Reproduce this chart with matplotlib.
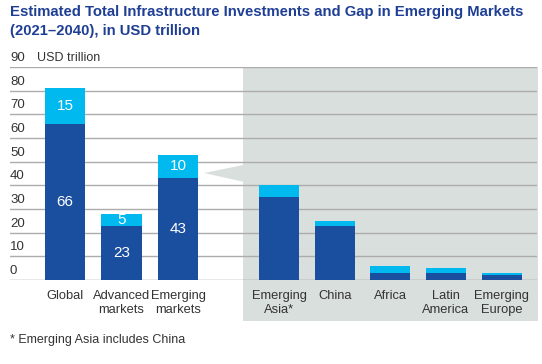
import matplotlib
matplotlib.use("Agg")
import matplotlib.pyplot as plt
from matplotlib.patches import Rectangle, Polygon
import matplotlib.transforms as mtransforms

plt.rcParams['font.family'] = ['Liberation Sans', 'DejaVu Sans']

categories = ["Global", "Advanced\nmarkets", "Emerging\nmarkets",
              "Emerging\nAsia*", "China", "Africa", "Latin\nAmerica", "Emerging\nEurope"]
investment = [66, 23, 43, 35, 23, 3, 3, 2]
gap = [15, 5, 10, 5, 2, 3, 2, 1]
show_labels = [True, True, True, False, False, False, False, False]
yticks = [0, 10, 20, 30, 40, 50, 60, 70, 80, 90]

positions = [0, 1, 2, 3.79, 4.78, 5.76, 6.74, 7.73]

DARK = "#1a4e9f"
LIGHT = "#00b9ef"
GRAY = "#d9dfdc"
TITLE = "#1f3f95"
TXT = "#333333"

W, H = 542, 364
fig = plt.figure(figsize=(W / 100, H / 100), dpi=100)
x0, x1 = 10, 537
yb, yt = 280, 67
ax = fig.add_axes([x0 / W, (H - yb) / H, (x1 - x0) / W, (yb - yt) / H])
xmin = (x0 - 65) / 56.5
xmax = (x1 - 65) / 56.5
ax.set_xlim(xmin, xmax)
ax.set_ylim(0, 90)
ax.axis("off")

trans = mtransforms.blended_transform_factory(ax.transData, ax.transAxes)
gx = (243 - 65) / 56.5
ax.add_patch(Rectangle((gx, -0.192), xmax - gx + 0.02, 1.192, transform=trans,
                       facecolor=GRAY, edgecolor="none", clip_on=False, zorder=0))

for t in yticks:
    ax.axhline(t, color="#acacac" if t > 0 else "#8c8c8c", lw=1.0, zorder=1)
    ax.text(xmin, t + 1.2, str(t), ha="left", va="bottom", fontsize=9.5, color=TXT)
ax.text(xmin + 0.48, 91.2, "USD trillion", ha="left", va="bottom", fontsize=9, color=TXT)

bw = 0.71
ax.bar(positions, investment, width=bw, color=DARK, zorder=3)
ax.bar(positions, gap, bottom=investment, width=bw, color=LIGHT, zorder=3)

for p, inv, g, s in zip(positions, investment, gap, show_labels):
    if s:
        ax.text(p, inv / 2, str(inv), ha="center", va="center", color="white", fontsize=11, zorder=4)
        ax.text(p, inv + g / 2, str(g), ha="center", va="center", color="white", fontsize=11, zorder=4)

for p, c in zip(positions, categories):
    ax.text(p, -4.3, c, ha="center", va="top", fontsize=9.3, color=TXT, linespacing=1.25)

tip = (204 - 65) / 56.5
ax.add_patch(Polygon([(tip, 45.2), (gx + 0.01, 48.6), (gx + 0.01, 41.5)], closed=True,
                     facecolor=GRAY, edgecolor="none", zorder=0))

fig.text(10 / W, 1 - 5 / H, "Estimated Total Infrastructure Investments and Gap in Emerging Markets\n(2021\u20132040), in USD trillion",
         ha="left", va="top", fontsize=10.7, fontweight="bold", color=TITLE, linespacing=1.45)
fig.text(10 / W, 1 - 340 / H, "* Emerging Asia includes China", ha="left", va="center", fontsize=9, color=TXT)

fig.savefig("out.png", dpi=100)
